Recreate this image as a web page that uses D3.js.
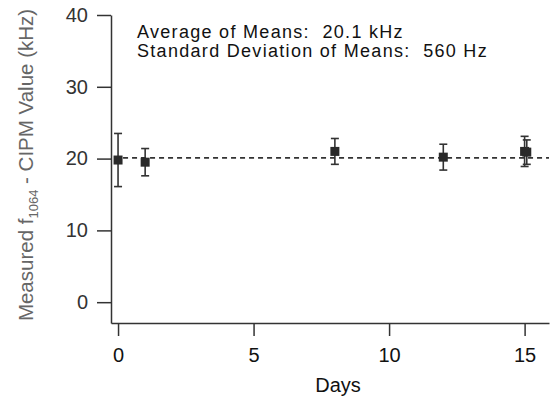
<!DOCTYPE html>
<html>
<head>
<meta charset="utf-8">
<script src="https://cdn.jsdelivr.net/npm/d3@7"></script>
<style>
  body { margin: 0; background: #fff; }
  text { font-family: "Liberation Sans", Arial, sans-serif; }
</style>
</head>
<body>
<div id="chart"></div>
<script>
// measurement days, means (kHz) and error half-widths
const days = [0, 1, 8, 12, 15, 15.08];
const means = [19.8, 19.5, 21.0, 20.2, 21.0, 20.9];
const errs = [3.7, 1.9, 1.8, 1.8, 2.1, 1.7];
const avgMean = 20.1;
const xTicks = [0, 5, 10, 15];
const yTicks = [0, 10, 20, 30, 40];
const notes = ["Average of Means:  20.1 kHz", "Standard Deviation of Means:  560 Hz"];

const width = 552, height = 397;
const ink = "#333";

const svg = d3.select("#chart")
    .append("svg")
    .attr("width", width)
    .attr("height", height);

const x = d3.scaleLinear().domain([-0.26, 15.9]).range([111, 549]);
const y = d3.scaleLinear().domain([-2.9, 40]).range([323, 15]);

// y axis
const yAxis = svg.append("g")
    .attr("transform", "translate(111,0)")
    .call(d3.axisLeft(y).tickValues(yTicks).tickSize(14).tickSizeOuter(0).tickPadding(9));
yAxis.select(".domain").attr("stroke", ink).attr("stroke-width", 1.5);
yAxis.selectAll(".tick line").attr("stroke", ink).attr("stroke-width", 1.5);
yAxis.selectAll(".tick text")
    .style("font-size", "20px")
    .attr("fill", "#333");

// x axis
const xAxis = svg.append("g")
    .attr("transform", "translate(0,323)")
    .call(d3.axisBottom(x).tickValues(xTicks).tickSize(13).tickSizeOuter(0).tickPadding(12));
xAxis.select(".domain").attr("stroke", ink).attr("stroke-width", 1.5);
xAxis.selectAll(".tick line").attr("stroke", ink).attr("stroke-width", 1.5);
xAxis.selectAll(".tick text")
    .style("font-size", "20px")
    .attr("fill", "#111");

// axis titles
svg.append("text")
    .attr("x", 338)
    .attr("y", 392)
    .attr("text-anchor", "middle")
    .style("font-size", "20px")
    .attr("fill", "#111")
    .text("Days");

const yTitle = svg.append("text")
    .attr("transform", "translate(33,165) rotate(-90)")
    .attr("text-anchor", "middle")
    .style("font-size", "20.5px")
    .attr("fill", "#666");
yTitle.append("tspan").text("Measured f");
yTitle.append("tspan").attr("dy", 5).style("font-size", "13px").text("1064");
yTitle.append("tspan").attr("dy", -5).text(" - CIPM Value (kHz)");

// dashed average line
svg.append("line")
    .attr("x1", x(0) + 5)
    .attr("x2", x(15.9))
    .attr("y1", y(avgMean))
    .attr("y2", y(avgMean))
    .attr("stroke", ink)
    .attr("stroke-width", 1.8)
    .attr("stroke-dasharray", "5,4");

// error bars and markers
const pts = days.map((d, i) => ({ day: d, mean: means[i], err: errs[i] }));
const g = svg.append("g").selectAll("g").data(pts).enter().append("g");

g.append("line")
    .attr("x1", d => x(d.day)).attr("x2", d => x(d.day))
    .attr("y1", d => y(d.mean + d.err)).attr("y2", d => y(d.mean - d.err))
    .attr("stroke", ink).attr("stroke-width", 1.6);
g.append("line")
    .attr("x1", d => x(d.day) - 4).attr("x2", d => x(d.day) + 4)
    .attr("y1", d => y(d.mean + d.err)).attr("y2", d => y(d.mean + d.err))
    .attr("stroke", ink).attr("stroke-width", 1.6);
g.append("line")
    .attr("x1", d => x(d.day) - 4).attr("x2", d => x(d.day) + 4)
    .attr("y1", d => y(d.mean - d.err)).attr("y2", d => y(d.mean - d.err))
    .attr("stroke", ink).attr("stroke-width", 1.6);
g.append("rect")
    .attr("x", d => x(d.day) - 4.5)
    .attr("y", d => y(d.mean) - 4.5)
    .attr("width", 9)
    .attr("height", 9)
    .attr("fill", "#2a2a2a");

// annotation
svg.append("g").selectAll("text")
    .data(notes)
    .enter()
    .append("text")
    .attr("x", 137)
    .attr("y", (d, i) => 38 + i * 19)
    .style("font-size", "18px")
    .style("letter-spacing", "1.3px")
    .style("white-space", "pre")
    .attr("fill", "#111")
    .text(d => d);
</script>
</body>
</html>
